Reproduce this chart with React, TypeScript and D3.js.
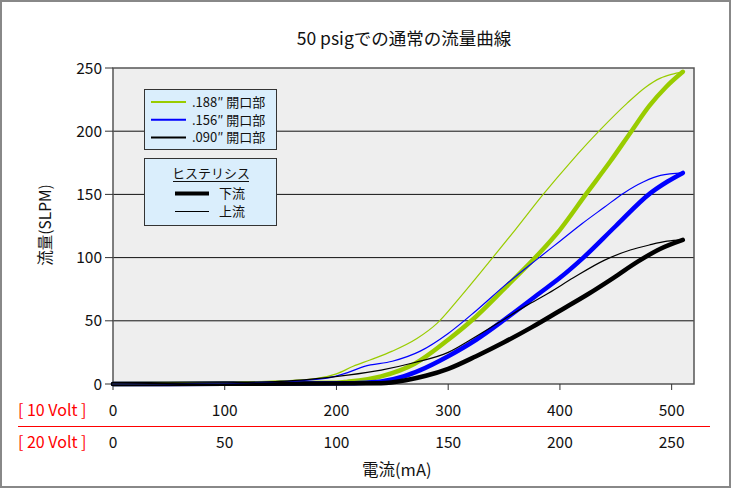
import * as d3 from "d3";

// [mA @10V, SLPM]
const down188 = [
  [0, 0], [50, 0.2], [100, 0.5], [150, 0.8], [200, 1], [210, 1.8], [240, 6], [270, 16], [300, 35],
  [322, 51], [352, 77], [380, 102], [400, 122], [424, 151], [445, 176], [464, 200], [480, 220],
  [495, 235], [510, 247],
];
const up188 = [
  [0, 0], [50, 0.5], [100, 1], [150, 2.4], [180, 4], [200, 8], [215, 14], [230, 19], [250, 26],
  [272, 36], [290, 48], [310, 68], [338, 98], [360, 122], [385, 150], [410, 176], [436, 201],
  [460, 222], [477, 235], [490, 242], [500, 245], [510, 247],
];
const down156 = [
  [0, 0], [100, 0.2], [200, 0.5], [220, 0.8], [240, 2], [260, 6], [275, 11], [300, 22], [325, 35],
  [352, 52], [382, 72], [400, 84], [421, 100], [450, 125], [481, 151], [496, 160], [510, 167],
];
const up156 = [
  [0, 0], [50, 0.3], [100, 0.8], [150, 2], [190, 4.5], [210, 9], [225, 14], [250, 18], [275, 26],
  [300, 40], [325, 58], [352, 79], [380, 99], [400, 113], [420, 127], [440, 140], [457, 151],
  [475, 160], [490, 165], [510, 167],
];
const down090 = [
  [0, 0], [100, 0.1], [200, 0.3], [240, 0.6], [262, 3], [280, 6.5], [300, 12], [325, 22], [350, 33],
  [375, 45], [400, 58], [425, 71], [448, 84], [470, 97], [490, 107], [510, 114],
];
const up090 = [
  [0, 0], [50, 0.5], [100, 1], [150, 2], [180, 4], [210, 7], [240, 11], [270, 17], [300, 25],
  [320, 35], [346, 49], [370, 62], [390, 72], [412, 84], [440, 98], [463, 106],
  [480, 110], [496, 113], [510, 114],
];

const yTicks = [0, 50, 100, 150, 200, 250];
const xTicks10V = [0, 100, 200, 300, 400, 500];
const xTicks20V = [0, 50, 100, 150, 200, 250];
const openings = [".188″ 開口部", ".156″ 開口部", ".090″ 開口部"];
const colors = ["#99cc00", "#0000ff", "#000000"];

const W = 731;
const H = 488;
const font = "'Noto Sans CJK JP', 'Noto Sans', sans-serif";

export default function App() {
  const x = d3.scaleLinear().domain([0, 520]).range([113, 694]);
  const y = d3.scaleLinear().domain([0, 250]).range([384, 68]);
  const line = d3
    .line<number[]>()
    .x((d) => x(d[0]))
    .y((d) => y(d[1]))
    .curve(d3.curveMonotoneX);

  const thick = [down188, down156, down090];
  const thin = [up188, up156, up090];
  const [x0, x1] = x.range();
  const [y0, y1] = y.range();

  return (
    <svg
      width={W}
      height={H}
      style={{ position: "absolute", left: 0, top: 0, background: "#fff" }}
      fontFamily={font}
    >
      <rect x={1} y={1} width={W - 2} height={H - 2} fill="#fff" stroke="#888" strokeWidth={2} />

      <text x={404} y={45} textAnchor="middle" fontSize={17.5} fill="#111">
        50 psigでの通常の流量曲線
      </text>

      {/* plot area */}
      <rect x={x0} y={y1} width={x1 - x0} height={y0 - y1} fill="#eeeeee" />
      {yTicks.slice(1, -1).map((t) => (
        <line key={t} x1={x0} x2={x1} y1={y(t)} y2={y(t)} stroke="#111" strokeWidth={1} />
      ))}
      <rect x={x0} y={y1} width={x1 - x0} height={y0 - y1} fill="none" stroke="#555" strokeWidth={1.5} />

      {yTicks.map((t) => (
        <g key={t}>
          <line x1={x0 - 8} x2={x0} y1={y(t)} y2={y(t)} stroke="#333" />
          <text x={x0 - 11} y={y(t) + 5.5} textAnchor="end" fontSize={15.5} fill="#111">
            {t}
          </text>
        </g>
      ))}
      {xTicks10V.map((t) => (
        <line key={t} x1={x(t)} x2={x(t)} y1={y0} y2={y0 + 6} stroke="#333" />
      ))}

      {/* curves */}
      <g fill="none" strokeLinecap="round" strokeLinejoin="round">
        {thick.map((s, i) => (
          <path key={"d" + i} d={line(s) ?? ""} stroke={colors[i]} strokeWidth={4.5} />
        ))}
        {thin.map((s, i) => (
          <path key={"u" + i} d={line(s) ?? ""} stroke={colors[i]} strokeWidth={1.2} />
        ))}
      </g>

      {/* axes labels */}
      <text
        transform={`translate(51, 225) rotate(-90)`}
        textAnchor="middle"
        fontSize={15.5}
        fill="#111"
      >
        流量(SLPM)
      </text>

      <text x={18} y={416} fontSize={16} fill="#ff0000">
        [ 10 Volt ]
      </text>
      {xTicks10V.map((t) => (
        <text key={t} x={x(t)} y={416} textAnchor="middle" fontSize={15.5} fill="#111">
          {t}
        </text>
      ))}
      <line x1={18} x2={710} y1={426.5} y2={426.5} stroke="#ff0000" strokeWidth={1} />
      <text x={18} y={448} fontSize={16} fill="#ff0000">
        [ 20 Volt ]
      </text>
      {xTicks20V.map((t, i) => (
        <text key={t} x={x(xTicks10V[i])} y={448} textAnchor="middle" fontSize={15.5} fill="#111">
          {t}
        </text>
      ))}
      <text x={x(254)} y={476} textAnchor="middle" fontSize={16.5} fill="#111">
        電流(mA)
      </text>

      {/* legend: openings */}
      <rect x={144.5} y={89.5} width={132} height={60} fill="#daeefc" stroke="#333" />
      {openings.map((label, i) => (
        <g key={label}>
          <line x1={151} x2={186} y1={102 + i * 17.7} y2={102 + i * 17.7} stroke={colors[i]} strokeWidth={2} />
          <text x={192} y={107 + i * 17.7} fontSize={13} fill="#111">
            {label}
          </text>
        </g>
      ))}

      {/* legend: hysteresis */}
      <rect x={144.5} y={158.5} width={132} height={67} fill="#daeefc" stroke="#333" />
      <text x={211} y={178} textAnchor="middle" fontSize={13} fill="#111">
        ヒステリシス
      </text>
      <line x1={173} x2={249} y1={181.5} y2={181.5} stroke="#111" strokeWidth={1} />
      <line x1={175} x2={209} y1={193.5} y2={193.5} stroke="#000" strokeWidth={4} />
      <text x={219} y={198} fontSize={13} fill="#111">
        下流
      </text>
      <line x1={175} x2={209} y1={211.5} y2={211.5} stroke="#000" strokeWidth={1} />
      <text x={219} y={216} fontSize={13} fill="#111">
        上流
      </text>
    </svg>
  );
}
